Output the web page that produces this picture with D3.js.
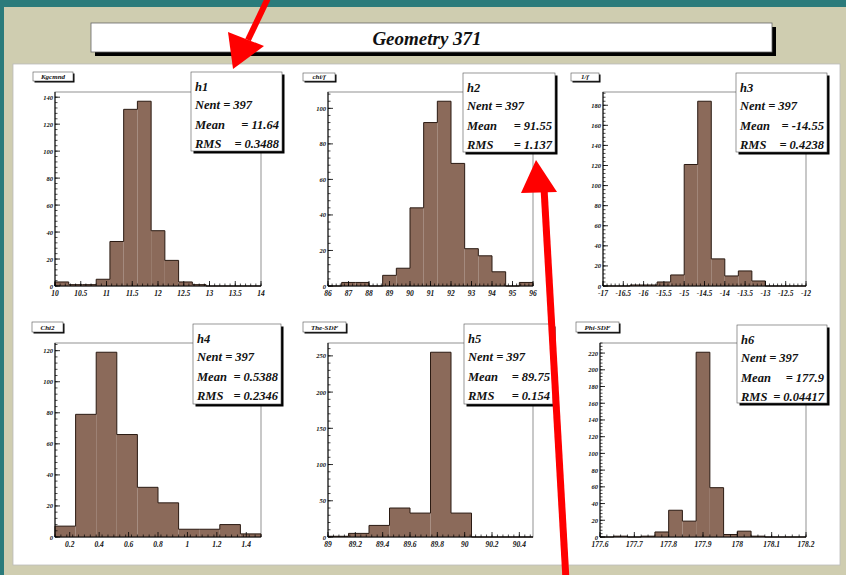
<!DOCTYPE html>
<html>
<head>
<meta charset="utf-8">
<script src="https://cdn.jsdelivr.net/npm/d3@7"></script>
<style>
  html, body { margin: 0; padding: 0; background: #2b7b7b; }
  svg { display: block; }
  text { font-family: "Liberation Serif", "DejaVu Serif", serif; font-style: italic; font-weight: bold; }
</style>
</head>
<body>
<svg id="chart"></svg>
<script>
// histogram contents
const histIds = ["h1", "h2", "h3", "h4", "h5", "h6"];
const panelNames = ["Kgcmnd", "chi/f", "1/f", "Chi2", "The-SDF", "Phi-SDF"];
const xDomains = [[10, 14], [86, 96], [-17, -12], [0.1, 1.5], [89, 90.5], [177.6, 178.2]];

const h1Counts = [3, 1, 1, 5, 33, 131, 137, 41, 19, 3, 1, 0, 0, 0, 0];
const h2Counts = [0, 2, 2, 0, 6, 10, 44, 92, 104, 69, 21, 17, 8, 0, 2];
const h3Counts = [0, 0, 1, 1, 4, 11, 121, 184, 27, 10, 15, 5, 0, 0, 0];
const h4Counts = [7, 79, 119, 66, 32, 22, 5, 5, 8, 2];
const h5Counts = [1, 5, 16, 40, 33, 255, 33, 0, 0, 0];
const h6Counts = [0, 1, 0, 1, 6, 32, 19, 221, 59, 3, 7, 1, 0, 0, 0];

const xTicks1 = [10, 10.5, 11, 11.5, 12, 12.5, 13, 13.5, 14];
const xTicks2 = [86, 87, 88, 89, 90, 91, 92, 93, 94, 95, 96];
const xTicks3 = [-17, -16.5, -16, -15.5, -15, -14.5, -14, -13.5, -13, -12.5, -12];
const xTicks4 = [0.2, 0.4, 0.6, 0.8, 1, 1.2, 1.4];
const xTicks5 = [89, 89.2, 89.4, 89.6, 89.8, 90, 90.2, 90.4];
const xTicks6 = [177.6, 177.7, 177.8, 177.9, 178, 178.1, 178.2];

const yTicks1 = [0, 20, 40, 60, 80, 100, 120, 140];
const yTicks2 = [0, 20, 40, 60, 80, 100];
const yTicks3 = [0, 20, 40, 60, 80, 100, 120, 140, 160, 180];
const yTicks4 = [0, 20, 40, 60, 80, 100, 120];
const yTicks5 = [0, 50, 100, 150, 200, 250];
const yTicks6 = [0, 20, 40, 60, 80, 100, 120, 140, 160, 180, 200, 220];

const entries = [397, 397, 397, 397, 397, 397];
const means = ["11.64", "91.55", "-14.55", "0.5388", "89.75", "177.9"];
const rmsValues = ["0.3488", "1.137", "0.4238", "0.2346", "0.154", "0.04417"];

const allCounts = [h1Counts, h2Counts, h3Counts, h4Counts, h5Counts, h6Counts];
const allXTicks = [xTicks1, xTicks2, xTicks3, xTicks4, xTicks5, xTicks6];
const allYTicks = [yTicks1, yTicks2, yTicks3, yTicks4, yTicks5, yTicks6];

// layout (frames, stat boxes, name tags)
const frames = [
  [55, 92, 206, 194], [328, 92, 205, 194], [603, 92, 203, 194],
  [55, 343, 206, 194], [328, 343, 205, 194], [600, 343, 206, 194]
];
const statBoxes = [
  [191, 72, 91, 79], [463, 73, 92, 79], [736, 73, 91, 79],
  [193, 324, 88, 80], [464, 324, 89, 80], [737, 325, 90, 78]
];
const nameTags = [
  [33, 72, 40, 9], [303, 73, 32, 8], [571, 73, 28, 8],
  [32, 322, 31, 10], [303, 322, 43, 10], [576, 322, 43, 10]
];

const W = 846, H = 575;
const svg = d3.select("#chart").attr("width", W).attr("height", H);

svg.append("rect").attr("width", W).attr("height", H).attr("fill", "#2b7b7b");
svg.append("rect").attr("x", 4).attr("y", 7).attr("width", W - 4).attr("height", H - 7).attr("fill", "#cfcdb0");
svg.append("rect").attr("x", 13).attr("y", 64).attr("width", 827).attr("height", 501)
  .attr("fill", "#fff").attr("stroke", "#bbb").attr("stroke-width", 0.8);

// title box with shadow
svg.append("rect").attr("x", 95).attr("y", 27).attr("width", 681).attr("height", 29).attr("fill", "#000");
svg.append("rect").attr("x", 91).attr("y", 23).attr("width", 681).attr("height", 29)
  .attr("fill", "#fff").attr("stroke", "#666").attr("stroke-width", 0.8);
svg.append("text").attr("x", 427).attr("y", 45).attr("text-anchor", "middle")
  .attr("font-size", 19).attr("fill", "#111").text("Geometry 371");

const fmt = v => String(+v.toFixed(3));

histIds.forEach((id, i) => {
  const [fx, fy, fw, fh] = frames[i];
  const counts = allCounts[i];
  const dom = xDomains[i];
  const x = d3.scaleLinear().domain(dom).range([fx, fx + fw]);
  const ymax = d3.max(counts) * 1.05;
  const y = d3.scaleLinear().domain([0, ymax]).range([fy + fh, fy]);
  const bw = (dom[1] - dom[0]) / counts.length;
  const bins = counts.map((c, k) => ({ x0: dom[0] + k * bw, x1: dom[0] + (k + 1) * bw, c }));

  const g = svg.append("g");

  g.append("rect").attr("x", fx).attr("y", fy).attr("width", fw).attr("height", fh)
    .attr("fill", "#fff").attr("stroke", "#777").attr("stroke-width", 0.8);

  g.selectAll(".bar").data(bins.filter(b => b.c > 0)).join("rect")
    .attr("x", b => x(b.x0)).attr("y", b => y(b.c))
    .attr("width", b => x(b.x1) - x(b.x0)).attr("height", b => y(0) - y(b.c))
    .attr("fill", "#8b6a5a");

  // outline as a step line
  const pts = [[x(dom[0]), y(0)]];
  bins.forEach(b => { pts.push([x(b.x0), y(b.c)]); pts.push([x(b.x1), y(b.c)]); });
  pts.push([x(dom[1]), y(0)]);
  g.append("path").attr("d", d3.line()(pts)).attr("fill", "none")
    .attr("stroke", "#2a1a12").attr("stroke-width", 1);

  // x axis: ticks pointing up into the frame
  const xt = allXTicks[i];
  const xStep = xt[1] - xt[0];
  const xMinor = d3.range(dom[0], dom[1] + 1e-9, xStep / 5);
  g.selectAll(".xmin").data(xMinor).join("line")
    .attr("x1", d => x(d)).attr("x2", d => x(d)).attr("y1", fy + fh).attr("y2", fy + fh - 2.5)
    .attr("stroke", "#000").attr("stroke-width", 0.7);
  g.selectAll(".xmaj").data(xt).join("line")
    .attr("x1", d => x(d)).attr("x2", d => x(d)).attr("y1", fy + fh).attr("y2", fy + fh - 5)
    .attr("stroke", "#000").attr("stroke-width", 0.8);
  g.selectAll(".xlab").data(xt).join("text")
    .attr("x", d => x(d)).attr("y", fy + fh + 10).attr("text-anchor", "middle")
    .attr("font-size", 7.5).attr("fill", "#111").text(fmt);

  // y axis: ticks pointing right
  const yt = allYTicks[i];
  const yStep = yt[1] - yt[0];
  const yMinor = d3.range(0, ymax, yStep / 5);
  g.selectAll(".ymin").data(yMinor).join("line")
    .attr("x1", fx).attr("x2", fx + 2.5).attr("y1", d => y(d)).attr("y2", d => y(d))
    .attr("stroke", "#000").attr("stroke-width", 0.7);
  g.selectAll(".ymaj").data(yt).join("line")
    .attr("x1", fx).attr("x2", fx + 5).attr("y1", d => y(d)).attr("y2", d => y(d))
    .attr("stroke", "#000").attr("stroke-width", 0.8);
  g.selectAll(".ylab").data(yt).join("text")
    .attr("x", fx - 2).attr("y", d => y(d) + 2.5).attr("text-anchor", "end")
    .attr("font-size", 6.5).attr("fill", "#111").text(d => d);

  g.append("line").attr("x1", fx).attr("x2", fx + fw).attr("y1", fy + fh).attr("y2", fy + fh)
    .attr("stroke", "#000").attr("stroke-width", 1);
  g.append("line").attr("x1", fx).attr("x2", fx).attr("y1", fy).attr("y2", fy + fh)
    .attr("stroke", "#000").attr("stroke-width", 1);

  // name tag
  const [nx, ny, nw, nh] = nameTags[i];
  g.append("rect").attr("x", nx + 1.5).attr("y", ny + 1.5).attr("width", nw).attr("height", nh).attr("fill", "#000");
  g.append("rect").attr("x", nx).attr("y", ny).attr("width", nw).attr("height", nh)
    .attr("fill", "#fff").attr("stroke", "#555").attr("stroke-width", 0.6);
  g.append("text").attr("x", nx + nw / 2).attr("y", ny + nh - 2).attr("text-anchor", "middle")
    .attr("font-size", 7).attr("fill", "#111").text(panelNames[i]);

  // stats box
  const [sx, sy, sw, sh] = statBoxes[i];
  g.append("rect").attr("x", sx + 2.5).attr("y", sy + 2.5).attr("width", sw).attr("height", sh).attr("fill", "#000");
  g.append("rect").attr("x", sx).attr("y", sy).attr("width", sw).attr("height", sh)
    .attr("fill", "#fff").attr("stroke", "#555").attr("stroke-width", 0.6);
  const tx = sx + 4;
  const fs = 12.5;
  g.append("text").attr("x", tx).attr("y", sy + 19).attr("font-size", fs).attr("fill", "#111").text(id);
  g.append("text").attr("x", tx).attr("y", sy + 37).attr("font-size", fs).attr("fill", "#111")
    .text("Nent = " + entries[i]);
  g.append("text").attr("x", tx).attr("y", sy + 57).attr("font-size", fs).attr("fill", "#111").text("Mean");
  g.append("text").attr("x", sx + sw - 3).attr("y", sy + 57).attr("text-anchor", "end")
    .attr("font-size", fs).attr("fill", "#111").text("= " + means[i]);
  g.append("text").attr("x", tx).attr("y", sy + 76).attr("font-size", fs).attr("fill", "#111").text("RMS");
  g.append("text").attr("x", sx + sw - 3).attr("y", sy + 76).attr("text-anchor", "end")
    .attr("font-size", fs).attr("fill", "#111").text("= " + rmsValues[i]);
});

// red annotation arrows
const red = "#f00";
svg.append("line").attr("x1", 268).attr("y1", -2).attr("x2", 248).attr("y2", 40)
  .attr("stroke", red).attr("stroke-width", 6);
svg.append("path").attr("d", "M228,32 L264,46 L233,69 Z").attr("fill", red);

svg.append("line").attr("x1", 544).attr("y1", 188).attr("x2", 566).attr("y2", 580)
  .attr("stroke", red).attr("stroke-width", 7);
svg.append("path").attr("d", "M521,193 L557,192 L536,160 Z").attr("fill", red);
</script>
</body>
</html>
